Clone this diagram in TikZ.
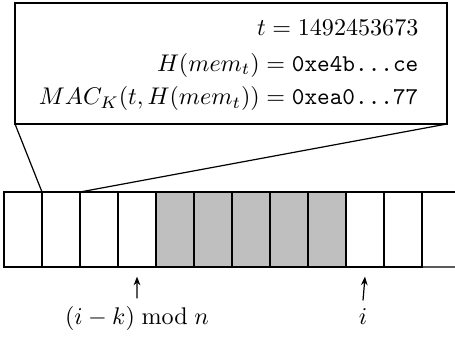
\documentclass[tikz,border=0pt]{standalone}
\usetikzlibrary{positioning, arrows.meta}

\tikzset{
  cell/.style={draw, inner sep=0pt, outer sep=0pt, minimum width=15.77pt, minimum height=31.13pt},
  used/.style={cell, fill=gray!50},
  zoombox/.style={draw, inner sep=0pt, outer sep=0pt, minimum width=179.3pt, minimum height=50.2pt},
  entry/.style={anchor=base east, inner sep=0pt},
}

\begin{document}
\begin{tikzpicture}[x=0.415pt, y=-0.415pt, line width=0.5pt, >={Stealth[length=3.6pt, width=2.8pt]}]
    \useasboundingbox (0,0) rectangle (455,337);

    % Memory cells
    \node[cell, anchor=north west] (c0) at (4,192) {};
    \foreach \i [remember=\i as \j (initially 0)] in {1,...,10} {
        \ifnum\i>3 \ifnum\i<9
            \node[used, right=0pt of c\j] (c\i) {};
        \else
            \node[cell, right=0pt of c\j] (c\i) {};
        \fi \else
            \node[cell, right=0pt of c\j] (c\i) {};
        \fi
    }
    \coordinate (endtop) at (455,192);
    \coordinate (endbot) at (455,267);
    \draw (c10.north east) -- (endtop);
    \draw (c10.south east) -- (endbot);

    % Zoomed cell contents
    \node[zoombox, anchor=north west] (zoom) at (15,3) {};
    \node[entry] (ts) at (419,36) {$t = 1492453673$};
    \node[entry] (hash) at (419,71) {$H(mem_t) = \texttt{0xe4b...ce}$};
    \node[entry] (mac) at (419,105) {$MAC_K(t, H(mem_t)) = \texttt{0xea0...77}$};
    \draw (zoom.south west) -- (c1.north west);
    \draw (zoom.south east) -- (c1.north east);

    % Pointers
    \node[anchor=base] (lo) at (137,325) {$(i-k) \bmod n$};
    \node[anchor=base] (hi) at (363,325) {$i$};
    \draw[->] (lo.north) -- ([yshift=-4pt]c3.south);
    \draw[->] (hi.north) -- ([yshift=-4pt]c9.south);
\end{tikzpicture}
\end{document}
